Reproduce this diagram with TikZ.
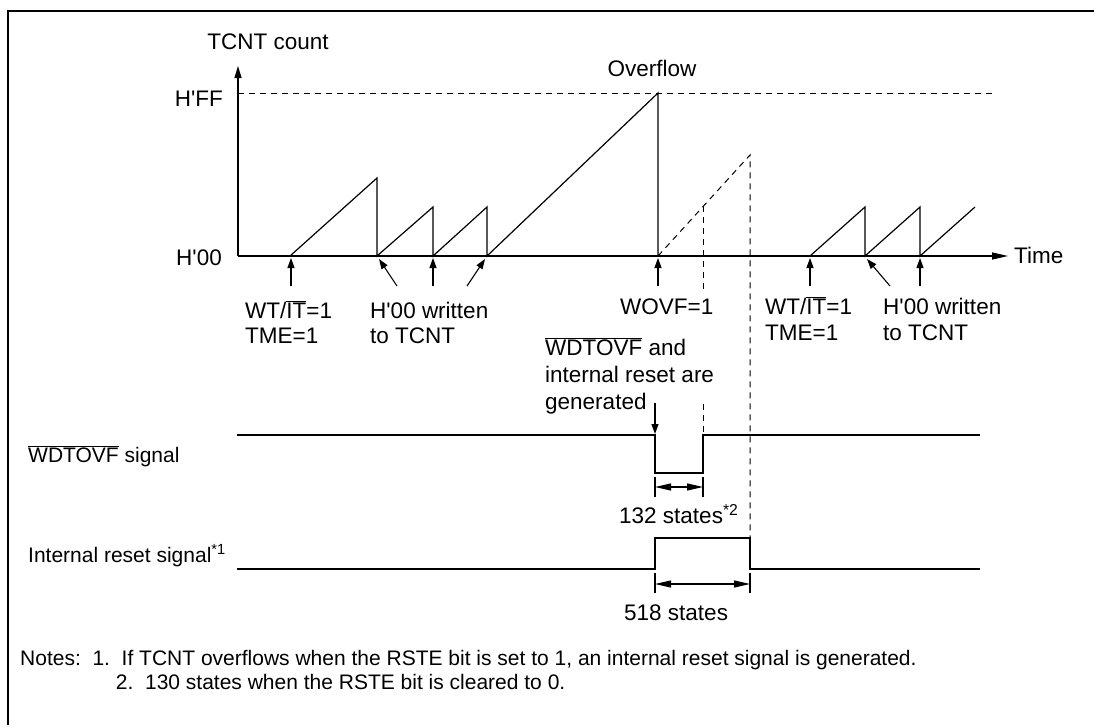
\documentclass[tikz,border=0pt]{standalone}
\usepackage{fontspec}
\setmainfont{Liberation Sans}
\usetikzlibrary{arrows.meta}
\newcommand\ovl[1]{$\overline{\mbox{#1}}$}
\newcommand\sq{\XeTeXglyph\numexpr\XeTeXcharglyph"0027\relax}
\begin{document}
\begin{tikzpicture}[x=1pt,y=-1pt,
  ln/.style={line width=1.2pt},
  dsh/.style={line width=1pt,dash pattern=on 6pt off 5pt},
  ptr/.style={line width=1.1pt,-{Triangle[length=10pt,width=7pt]}},
  dimarrow/.style={line width=1.1pt,{Triangle[length=16pt,width=7pt]}-{Triangle[length=16pt,width=7pt]}},
  lbl/.style={inner sep=0pt,font=\fontsize{22.5}{27}\selectfont},
  sig/.style={inner sep=0pt,font=\fontsize{21}{25}\selectfont},
  note/.style={inner sep=0pt,font=\fontsize{21}{25}\selectfont}]
\useasboundingbox (0,0) rectangle (1094,725);
% frame
\draw[line width=2pt] (8,725) -- (8,11) -- (1094,11);
% axes
\coordinate (O) at (238,256);
\coordinate (Ytop) at (238,66);
\coordinate (Xend) at (1008,256);
\draw[ln,-{Triangle[length=12pt,width=7pt]}] (O) -- (Ytop);
\draw[ln,-{Triangle[length=16pt,width=7pt]}] (O) -- (Xend);
\draw[dsh] (238,93) -- (992,93);
% sawtooth
\draw[ln] (290,256) -- (377,178) -- (377,256) -- (433,207) -- (433,256) -- (487,207) -- (487,256) -- (658,93) -- (658,256);
\draw[dsh] (658,256) -- (750,155) -- (750,538);
\draw[dsh] (703,206) -- (703,292);
\draw[dsh] (703,404) -- (703,435);
\draw[ln] (810,256) -- (865,207) -- (865,256) -- (920,207) -- (920,256) -- (975,207);
% pointers
\draw[ptr] (291,286) -- (291,258);
\draw[ptr] (397,286) -- (379,259);
\draw[ptr] (433,286) -- (433,258);
\draw[ptr] (467,286) -- (485,259);
\draw[ptr] (658,286) -- (658,258);
\draw[ptr] (810,286) -- (810,258);
\draw[ptr] (890,286) -- (867,259);
\draw[ptr] (920,286) -- (920,258);
% WDTOVF signal
\draw[ln] (237,435) -- (655,435) -- (655,473) -- (703,473) -- (703,435) -- (980,435);
\draw[ptr] (655,403) -- (655,434);
\draw[ln] (655,477) -- (655,497) (703,477) -- (703,497);
\draw[dimarrow] (655,487) -- (703,487);
% internal reset
\draw[ln] (237,569) -- (655,569) -- (655,538) -- (750,538) -- (750,569) -- (980,569);
\draw[ln] (655,573) -- (655,593) (750,573) -- (750,593);
\draw[dimarrow] (655,584) -- (750,584);
% labels
\node[lbl,anchor=base] (tc) at (268,50) {TCNT count};
\node[lbl,anchor=base east] (hff) at (223,106) {H\sq FF};
\node[lbl,anchor=base east] (h00) at (222,265) {H\sq 00};
\node[lbl,anchor=base] (ovf) at (652,76) {Overflow};
\node[lbl,anchor=base west] (time) at (1014,263) {Time};
\node[lbl,anchor=base west] (wt1) at (245,318) {WT/\ovl{IT}=1};
\node[lbl,anchor=base west] (tme1) at (245,343) {TME=1};
\node[lbl,anchor=base west] (hw1) at (370,318) {H\sq 00 written};
\node[lbl,anchor=base west] (tt1) at (370,343) {to TCNT};
\node[lbl,anchor=base west] (wovf) at (620,314) {WOVF=1};
\node[lbl,anchor=base west] (wt2) at (765,314) {WT/\ovl{IT}=1};
\node[lbl,anchor=base west] (tme2) at (765,340) {TME=1};
\node[lbl,anchor=base west] (hw2) at (883,314) {H\sq 00 written};
\node[lbl,anchor=base west] (tt2) at (883,340) {to TCNT};
\node[lbl,anchor=base west] (g1) at (545,355) {\ovl{WDTOVF} and};
\node[lbl,anchor=base west] (g2) at (545,382) {internal reset are};
\node[lbl,anchor=base west] (g3) at (545,409) {generated};
\node[lbl,anchor=base west] (s132) at (619,523) {132 states\textsuperscript{*2}};
\node[lbl,anchor=base west] (s518) at (624,620) {518 states};
\node[sig,anchor=base west] (wsig) at (28,462) {\ovl{WDTOVF} signal};
\node[sig,anchor=base west] (rsig) at (28,562) {Internal reset signal\textsuperscript{*1}};
\node[note,anchor=base west] (n1) at (20,665) {Notes:\ \ 1.\ \ If TCNT overflows when the RSTE bit is set to 1, an internal reset signal is generated.};
\node[note,anchor=base west] (n2) at (20,689) {\hphantom{Notes:\ \ 1.\ }2.\ \ 130 states when the RSTE bit is cleared to 0.};
\end{tikzpicture}
\end{document}
